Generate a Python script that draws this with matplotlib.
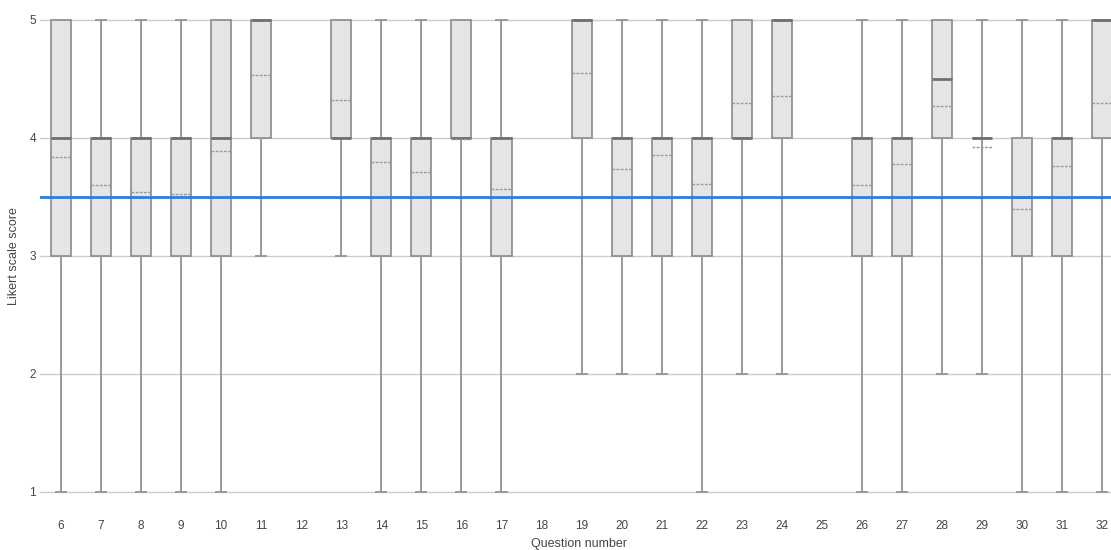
import matplotlib
matplotlib.use('Agg')
import matplotlib.pyplot as plt
import numpy as np

plt.rcParams['font.family'] = ['Liberation Sans', 'DejaVu Sans']

# Questions (12, 18 and 25 have no data)
questions = list(range(6, 33))
box_questions = [6, 7, 8, 9, 10, 11, 13, 14, 15, 16, 17, 19, 20, 21, 22, 23, 24,
                 26, 27, 28, 29, 30, 31, 32]
mins = [1, 1, 1, 1, 1, 3, 3, 1, 1, 1, 1, 2, 2, 2, 1, 2, 2, 1, 1, 2, 2, 1, 1, 1]
q1s = [3, 3, 3, 3, 3, 4, 4, 3, 3, 4, 3, 4, 3, 3, 3, 4, 4, 3, 3, 4, 4, 3, 3, 4]
medians = [4, 4, 4, 4, 4, 5, 4, 4, 4, 4, 4, 5, 4, 4, 4, 4, 5, 4, 4, 4.5, 4, 3.5, 4, 5]
q3s = [5, 4, 4, 4, 5, 5, 5, 4, 4, 5, 4, 5, 4, 4, 4, 5, 5, 4, 4, 5, 4, 4, 4, 5]
maxs = [5, 5, 5, 5, 5, 5, 5, 5, 5, 5, 5, 5, 5, 5, 5, 5, 5, 5, 5, 5, 5, 5, 5, 5]
means = [3.84, 3.60, 3.54, 3.525, 3.89, 4.53, 4.32, 3.80, 3.71, 3.99, 3.565, 4.55,
         3.74, 3.86, 3.61, 4.30, 4.36, 3.60, 3.78, 4.27, 3.92, 3.40, 3.76, 4.30]
threshold = 3.5

stats = []
for i in range(len(box_questions)):
    stats.append({'whislo': mins[i], 'q1': q1s[i], 'med': medians[i],
                  'q3': q3s[i], 'whishi': maxs[i], 'mean': means[i], 'fliers': []})

fig = plt.figure(figsize=(11.11, 5.5), dpi=100)
ax = fig.add_axes([40 / 1111, 58 / 550, 1071 / 1111, 472 / 550])

edge = '#8a8a8a'
ax.bxp(stats, positions=box_questions, widths=0.5, capwidths=0.25,
       showmeans=True, meanline=True, patch_artist=True,
       boxprops=dict(facecolor='#e5e5e5', edgecolor=edge, linewidth=1.2),
       whiskerprops=dict(color='#999999', linewidth=1.4),
       capprops=dict(color='#999999', linewidth=1.4),
       medianprops=dict(color='#707070', linewidth=2),
       meanprops=dict(color='#999999', linestyle=(0, (2, 1)), linewidth=1),
       manage_ticks=False, zorder=3)

for art in ax.get_children():
    art.set_clip_on(False)

ax.axhline(threshold, color='#2a7de1', linewidth=2, zorder=5)

ax.set_xlim(5.476, 32.22)
ax.set_ylim(1, 5)
ax.set_xticks(questions)
ax.set_xticklabels([str(q) for q in questions])
ax.set_yticks([1, 2, 3, 4, 5])
ax.tick_params(axis='both', length=0, labelsize=8.5, colors='#444444')
ax.tick_params(axis='x', pad=20)
ax.tick_params(axis='y', pad=3)
ax.grid(True, axis='y', color='#cccccc', linewidth=1)
for gl in ax.get_ygridlines():
    gl.set_clip_on(False)
ax.set_axisbelow(True)
for s in ax.spines.values():
    s.set_visible(False)

ax.set_xlabel('Question number', fontsize=9, color='#444444')
ax.xaxis.set_label_coords(0.503, -0.097)
ax.set_ylabel('Likert scale score', fontsize=9, color='#444444')
ax.yaxis.set_label_coords(-0.0185, 0.5)

fig.savefig('out.png', dpi=100)
